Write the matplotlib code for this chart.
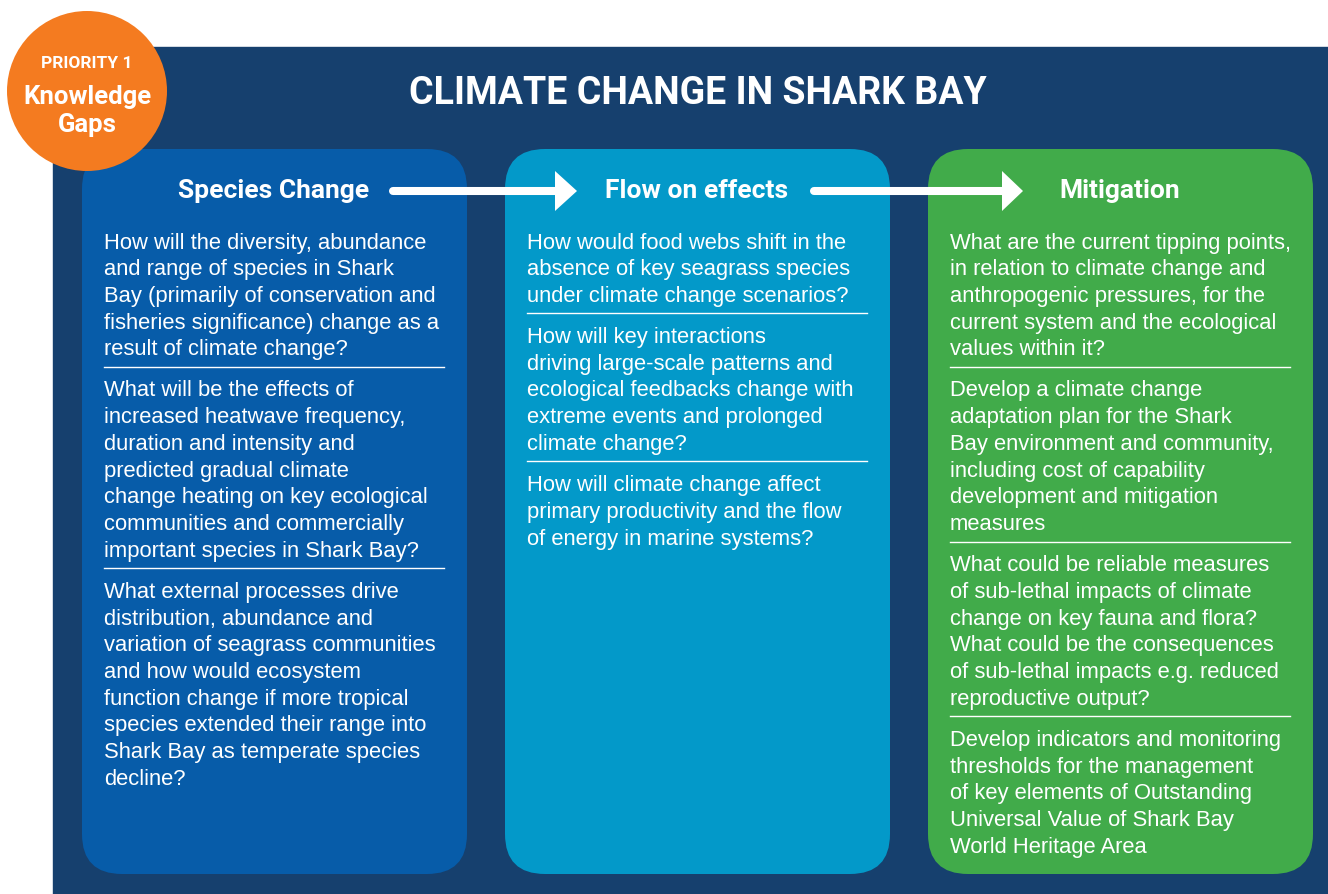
import matplotlib.pyplot as plt
from matplotlib.patches import FancyBboxPatch, Circle, Rectangle, Polygon

# texts
title = "CLIMATE CHANGE IN SHARK BAY"
badge_top = "PRIORITY 1"
badge_main = ["Knowledge", "Gaps"]
headers = ["Species Change", "Flow on effects", "Mitigation"]
box_colors = ["#075ca9", "#0399c9", "#41ab4a"]

col_species = [
    ["How will the diversity, abundance", "and range of species in Shark",
     "Bay (primarily of conservation and", "fisheries significance) change as a",
     "result of climate change?"],
    ["What will be the effects of", "increased heatwave frequency,",
     "duration and intensity and", "predicted gradual climate",
     "change heating on key ecological", "communities and commercially",
     "important species in Shark Bay?"],
    ["What external processes drive", "distribution, abundance and",
     "variation of seagrass communities", "and how would ecosystem",
     "function change if more tropical", "species extended their range into",
     "Shark Bay as temperate species", "decline?"],
]
col_flow = [
    ["How would food webs shift in the", "absence of key seagrass species",
     "under climate change scenarios?"],
    ["How will key interactions", "driving large-scale patterns and",
     "ecological feedbacks change with", "extreme events and prolonged",
     "climate change?"],
    ["How will climate change affect", "primary productivity and the flow",
     "of energy in marine systems?"],
]
col_mitig = [
    ["What are the current tipping points,", "in relation to climate change and",
     "anthropogenic pressures, for the", "current system and the ecological",
     "values within it?"],
    ["Develop a climate change", "adaptation plan for the Shark",
     "Bay environment and community,", "including cost of capability",
     "development and mitigation", "measures"],
    ["What could be reliable measures", "of sub-lethal impacts of climate",
     "change on key fauna and flora?", "What could be the consequences",
     "of sub-lethal impacts e.g. reduced", "reproductive output?"],
    ["Develop indicators and monitoring", "thresholds for the management",
     "of key elements of Outstanding", "Universal Value of Shark Bay",
     "World Heritage Area"],
]
columns = [col_species, col_flow, col_mitig]

W, H = 1328, 895
fig = plt.figure(figsize=(W / 100, H / 100), dpi=100)
ax = fig.add_axes([0, 0, 1, 1])
ax.set_xlim(0, W)
ax.set_ylim(H, 0)
ax.axis("off")

navy = "#16406e"
ax.add_patch(Rectangle((53, 48), W - 53, H - 48, color=navy, zorder=0))

head_font = "Roboto"
body_font = "Liberation Sans"

ax.text(698, 93, title, ha="center", va="center", color="white",
        fontsize=27, fontweight="bold", family=head_font)

box_x = [82, 505, 928]
head_x = [274, 697, 1120]
box_w = 385
line_h = 26.7
for i in range(3):
    x0 = box_x[i]
    ax.add_patch(FancyBboxPatch((x0 + 40, 150 + 40), box_w - 80, 725 - 80,
                                boxstyle="round,pad=40", color=box_colors[i],
                                lw=0, zorder=1))
    ax.text(head_x[i], 191, headers[i], ha="center", va="center",
            color="white", fontsize=19, fontweight="bold",
            family=head_font, zorder=3)
    y = 243
    paras = columns[i]
    for j, para in enumerate(paras):
        for line in para:
            ax.text(x0 + 22, y, line, ha="left", va="center", color="white",
                    fontsize=15.8, family=body_font, zorder=3)
            y += line_h
        if j < len(paras) - 1:
            sep = y - line_h + 18
            ax.plot([x0 + 22, x0 + 362], [sep, sep], color="white", lw=1.0,
                    zorder=3)
            y += 14.5

# arrows between headers
for xs, xb, xt in [(393, 555, 577), (814, 1002, 1023)]:
    ax.plot([xs, xb + 2], [192, 192], color="white", lw=5.8,
            solid_capstyle="round", zorder=4)
    ax.add_patch(Polygon([[xb, 172], [xt, 192], [xb, 212]],
                         closed=True, color="white", lw=0, zorder=4))

# priority badge
ax.add_patch(Circle((87, 92), 80, color="#f47b20", lw=0, zorder=5))
ax.text(87, 63, badge_top, ha="center", va="center", color="white",
        fontsize=12.5, fontweight="bold", family=head_font, zorder=6)
ax.text(87, 97, badge_main[0], ha="center", va="center", color="white",
        fontsize=18.5, fontweight="bold", family=head_font, zorder=6)
ax.text(87, 125, badge_main[1], ha="center", va="center", color="white",
        fontsize=18.5, fontweight="bold", family=head_font, zorder=6)

fig.savefig("out.png", dpi=100, facecolor="white")
